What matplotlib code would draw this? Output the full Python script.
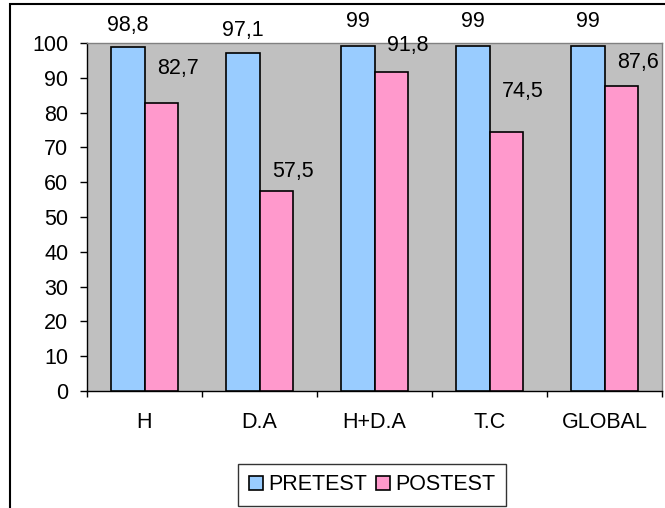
import numpy as np
import matplotlib.pyplot as plt
from matplotlib.patches import Rectangle

plt.rcParams['font.family'] = ['Liberation Sans', 'DejaVu Sans']

categorias = ['H', 'D.A', 'H+D.A', 'T.C', 'GLOBAL']
pretest = [98.8, 97.1, 99, 99, 99]
postest = [82.7, 57.5, 91.8, 74.5, 87.6]

# desplazamiento vertical (px) de las etiquetas de cada serie
desp_pre = [22, 23, 25, 25, 25]
desp_post = [35, 19, 26, 40, 24]

def etiqueta(v):
    # formato con coma decimal
    if v == int(v):
        return str(int(v))
    return ('%.1f' % v).replace('.', ',')

fs = 15.5
fig = plt.figure(figsize=(6.65, 5.08), dpi=100)
ax = fig.add_axes([87/665, 1-391/508, 575/665, 348/508])
ax.set_facecolor('#C0C0C0')

x = np.arange(len(categorias))
ancho = 0.287
b1 = ax.bar(x - ancho, pretest, ancho, align='edge', color='#99CCFF',
            edgecolor='black', linewidth=1.2, label='PRETEST', zorder=3)
b2 = ax.bar(x, postest, ancho, align='edge', color='#FF99CC',
            edgecolor='black', linewidth=1.2, label='POSTEST', zorder=3)

for i in range(len(categorias)):
    ax.annotate(etiqueta(pretest[i]), (x[i] - ancho/2, pretest[i]),
                xytext=(0, desp_pre[i]*0.72), textcoords='offset points',
                ha='center', va='center', fontsize=fs, annotation_clip=False)
    ax.annotate(etiqueta(postest[i]), (x[i] + ancho/2, postest[i]),
                xytext=(17*0.72, desp_post[i]*0.72), textcoords='offset points',
                ha='center', va='center', fontsize=fs, annotation_clip=False)

ax.set_xlim(-0.5, len(categorias) - 0.5)
ax.set_ylim(0, 100)
ax.set_yticks(range(0, 101, 10))
ax.set_xticks(x)
ax.set_xticklabels(categorias)
ax.set_xticks(np.arange(-0.5, len(categorias), 1), minor=True)
ax.tick_params(axis='x', which='major', length=0, pad=15, labelsize=fs)
ax.tick_params(axis='x', which='minor', length=4.5, width=1, direction='out')
ax.tick_params(axis='y', length=5, width=1, direction='out', pad=8.5, labelsize=fs)

for lado in ['left', 'bottom']:
    ax.spines[lado].set_color('black')
    ax.spines[lado].set_linewidth(1)
for lado in ['top', 'right']:
    ax.spines[lado].set_color('#808080')
    ax.spines[lado].set_linewidth(1)

leg = fig.legend(handles=[b1, b2], loc='center', bbox_to_anchor=(372/665, 1-485/508),
                 ncol=2, fontsize=fs, frameon=True, fancybox=False,
                 handlelength=0.65, handleheight=0.65, handletextpad=0.25,
                 columnspacing=0.4, borderpad=0.5, borderaxespad=0)
leg.get_frame().set_edgecolor('black')
leg.get_frame().set_linewidth(1)

# marco exterior del grafico
fig.patches.append(Rectangle((10/665, -0.05), 1.1, 1.05 - 4/508,
                             transform=fig.transFigure, fill=False,
                             edgecolor='black', linewidth=1.5))

fig.savefig('out.png', dpi=100)
